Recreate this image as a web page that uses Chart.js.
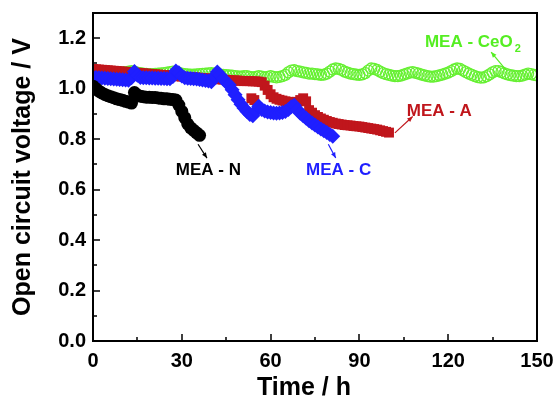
<!DOCTYPE html>
<html>
<head>
<meta charset="utf-8">
<script src="https://cdn.jsdelivr.net/npm/chart.js@4/dist/chart.umd.min.js"></script>
<style>
  html, body { margin: 0; padding: 0; background: #fff; }
  #wrap { width: 557px; height: 404px; }
</style>
</head>
<body>
<div id="wrap"><canvas id="ocv"></canvas></div>
<script>
// Time (h) and open circuit voltage (V) for each MEA
const timeN = [0,1,2,3,4,5,6,7,8,9,10,11,12,13,14,15,16,17,18,19,20,21,22,23,24,25,26,27,28,29,30,31,32,33,34,35,36];
const voltN = [1.01,1.0,0.99,0.983,0.977,0.972,0.968,0.964,0.96,0.957,0.954,0.95,0.947,0.943,0.985,0.975,0.97,0.968,0.966,0.966,0.965,0.965,0.963,0.962,0.96,0.96,0.958,0.957,0.955,0.935,0.91,0.885,0.86,0.845,0.835,0.825,0.815];

const timeA = [0,1,2,3,4,5,6,7,8,9,10,11,12,13,14,15,16,17,18,19,20,21,22,23,24,25,26,27,28,29,30,31,32,33,34,35,36,37,38,39,40,41,42,43,44,45,46,47,48,49,50,51,52,53,53.5,54,54.5,55,56,57,58,59,60,61,62,63,64,65,66,67,68,69,70,71,72,73,74,75,76,77,78,79,80,81,82,83,84,85,86,87,88,89,90,91,92,93,94,95,96,97,98,99,100];
const voltA = [1.078,1.077,1.076,1.075,1.074,1.073,1.072,1.071,1.07,1.069,1.068,1.067,1.066,1.065,1.064,1.063,1.062,1.061,1.06,1.059,1.058,1.057,1.056,1.055,1.054,1.053,1.052,1.051,1.05,1.049,1.048,1.047,1.046,1.045,1.045,1.044,1.043,1.042,1.041,1.04,1.04,1.039,1.038,1.037,1.036,1.035,1.034,1.033,1.033,1.032,1.031,1.03,1.03,1.03,0.962,1.029,0.955,1.029,1.028,1.026,1.012,0.995,0.978,0.966,0.96,0.956,0.953,0.95,0.948,0.946,0.946,0.948,0.955,0.962,0.95,0.915,0.905,0.895,0.888,0.882,0.877,0.872,0.868,0.865,0.862,0.86,0.858,0.856,0.855,0.854,0.852,0.851,0.85,0.848,0.846,0.844,0.842,0.84,0.838,0.835,0.832,0.829,0.826];

const timeC = [0,1,2,3,4,5,6,7,8,9,10,11,12,13,14,15,16,17,18,19,20,21,22,23,24,25,26,27,28,29,30,31,32,33,34,35,36,37,38,39,40,41,42,43,44,45,46,47,48,49,50,51,52,53,54,55,56,57,58,59,60,61,62,63,64,65,66,67,68,69,70,71,72,73,74,75,76,77,78,79,80,81];
const voltC = [1.045,1.044,1.043,1.042,1.041,1.04,1.039,1.038,1.037,1.036,1.035,1.034,1.033,1.043,1.068,1.053,1.044,1.043,1.043,1.042,1.042,1.041,1.041,1.04,1.04,1.039,1.039,1.048,1.07,1.063,1.05,1.043,1.041,1.04,1.039,1.038,1.036,1.034,1.032,1.03,1.028,1.048,1.066,1.053,1.038,1.026,1.016,0.996,0.976,0.956,0.938,0.923,0.91,0.898,0.893,0.913,0.93,0.918,0.912,0.908,0.906,0.904,0.903,0.904,0.906,0.91,0.918,0.928,0.934,0.918,0.903,0.893,0.883,0.873,0.864,0.856,0.848,0.84,0.833,0.826,0.818,0.812];

const timeCe = Array.from({ length: 151 }, (_, i) => i); // one reading per hour
const voltCe = [1.06,1.06,1.059,1.058,1.058,1.059,1.06,1.061,1.062,1.063,1.064,
  1.066,1.068,1.07,1.068,1.064,1.062,1.06,1.059,1.058,1.058,
  1.059,1.06,1.061,1.062,1.064,1.066,1.068,1.066,1.063,1.06,
  1.058,1.057,1.056,1.056,1.057,1.058,1.059,1.06,1.061,1.062,
  1.06,1.058,1.056,1.055,1.054,1.053,1.052,1.05,1.049,1.048,
  1.05,1.05,1.047,1.045,1.047,1.05,1.048,1.045,1.047,1.05,
  1.047,1.045,1.047,1.05,1.055,1.065,1.072,1.073,1.07,1.068,
  1.065,1.063,1.06,1.06,1.058,1.057,1.055,1.056,1.06,1.068,
  1.076,1.08,1.078,1.074,1.068,1.064,1.06,1.058,1.056,1.055,
  1.057,1.062,1.072,1.08,1.078,1.074,1.068,1.062,1.058,1.055,
  1.052,1.05,1.05,1.052,1.056,1.06,1.064,1.066,1.063,1.06,
  1.056,1.053,1.05,1.048,1.048,1.05,1.053,1.056,1.06,1.064,
  1.07,1.076,1.08,1.078,1.072,1.066,1.06,1.055,1.05,1.046,
  1.044,1.045,1.05,1.057,1.065,1.07,1.07,1.066,1.061,1.057,
  1.054,1.052,1.05,1.05,1.052,1.056,1.06,1.058,1.055,1.053];

const xTicks = [0, 30, 60, 90, 120, 150];
const yTicks = [0.0, 0.2, 0.4, 0.6, 0.8, 1.0, 1.2];

const pts = (t, v) => t.map((x, i) => ({ x, y: v[i] }));

// curve labels, placed in data space: [text, subscript, color, x, y, arrow from, arrow to]
const labels = [
  ['MEA - N', '', '#000000', 39, 0.675, [35.5, 0.78], [38.5, 0.725]],
  ['MEA - C', '', '#1f1fff', 83, 0.675, [79.5, 0.78], [82, 0.725]],
  ['MEA - A', '', '#c0161c', 117, 0.91, [102, 0.825], [108, 0.89]],
  ['MEA - CeO', '2', '#55ee22', 128, 1.185, [139.5, 1.075], [134.5, 1.145]],
];

const FONT = '"Liberation Sans", Arial, sans-serif';

const frame = {
  id: 'frame',
  afterDraw(chart) {
    const { ctx, chartArea: a, scales } = chart;
    ctx.save();
    ctx.strokeStyle = '#000';
    ctx.lineWidth = 2;
    ctx.strokeRect(a.left, a.top, a.right - a.left, a.bottom - a.top);
    ctx.lineWidth = 1.5;
    ctx.beginPath();
    for (let v = 0; v <= 1.25; v += 0.1) {
      const y = Math.round(scales.y.getPixelForValue(v));
      const len = Math.round(v * 10) % 2 === 0 ? 7 : 4;
      ctx.moveTo(a.left, y); ctx.lineTo(a.left + len, y);
    }
    for (let t = 0; t <= 150; t += 15) {
      const x = Math.round(scales.x.getPixelForValue(t));
      const len = t % 30 === 0 ? 7 : 4;
      ctx.moveTo(x, a.bottom); ctx.lineTo(x, a.bottom - len);
    }
    ctx.stroke();

    // x axis title, sits a little left of centre in the original
    ctx.fillStyle = '#000';
    ctx.font = 'bold 25px ' + FONT;
    ctx.textAlign = 'center';
    ctx.textBaseline = 'middle';
    ctx.fillText('Time / h', (a.left + a.right) / 2 - 11, 388);

    // curve labels and arrows
    ctx.font = 'bold 17px ' + FONT;
    labels.forEach(([txt, sub, col, lx, ly, from, to]) => {
      const px = scales.x.getPixelForValue(lx);
      const py = scales.y.getPixelForValue(ly);
      ctx.fillStyle = col;
      ctx.strokeStyle = col;
      const w = ctx.measureText(txt).width;
      let subW = 0;
      if (sub) {
        ctx.font = 'bold 11px ' + FONT;
        subW = ctx.measureText(sub).width;
        ctx.font = 'bold 17px ' + FONT;
      }
      const x0 = px - (w + subW) / 2;
      ctx.textAlign = 'left';
      ctx.fillText(txt, x0, py);
      if (sub) {
        ctx.font = 'bold 11px ' + FONT;
        ctx.fillText(sub, x0 + w + 2, py + 7);
        ctx.font = 'bold 17px ' + FONT;
      }
      const x1 = scales.x.getPixelForValue(from[0]), y1 = scales.y.getPixelForValue(from[1]);
      const x2 = scales.x.getPixelForValue(to[0]), y2 = scales.y.getPixelForValue(to[1]);
      const ang = Math.atan2(y2 - y1, x2 - x1);
      ctx.lineWidth = 1.2;
      ctx.beginPath();
      ctx.moveTo(x1, y1); ctx.lineTo(x2, y2);
      ctx.stroke();
      ctx.beginPath();
      ctx.moveTo(x2, y2);
      ctx.lineTo(x2 - 6 * Math.cos(ang - 0.4), y2 - 6 * Math.sin(ang - 0.4));
      ctx.lineTo(x2 - 6 * Math.cos(ang + 0.4), y2 - 6 * Math.sin(ang + 0.4));
      ctx.closePath();
      ctx.fill();
    });
    ctx.restore();
  },
};

const tickFont = { family: FONT, size: 20, weight: 'bold' };
const titleFont = { family: FONT, size: 25, weight: 'bold' };

new Chart(document.getElementById('ocv'), {
  type: 'scatter',
  data: {
    datasets: [
      {
        label: 'MEA - CeO2',
        data: pts(timeCe, voltCe),
        pointStyle: 'circle',
        pointRadius: 5.5,
        backgroundColor: 'rgba(0,0,0,0)',
        borderColor: '#66f032',
        borderWidth: 1.3,
        order: 4,
      },
      {
        label: 'MEA - A',
        data: pts(timeA, voltA),
        pointStyle: 'rect',
        pointRadius: 7,
        backgroundColor: '#c0161c',
        borderColor: '#c0161c',
        borderWidth: 0,
        order: 3,
      },
      {
        label: 'MEA - C',
        data: pts(timeC, voltC),
        pointStyle: 'rectRot',
        pointRadius: 7.5,
        backgroundColor: '#1f1fff',
        borderColor: '#1f1fff',
        borderWidth: 0,
        order: 2,
      },
      {
        label: 'MEA - N',
        data: pts(timeN, voltN),
        pointStyle: 'circle',
        pointRadius: 6.5,
        backgroundColor: '#000000',
        borderColor: '#000000',
        borderWidth: 0,
        order: 1,
      },
    ],
  },
  options: {
    responsive: true,
    maintainAspectRatio: false,
    animation: false,
    layout: { padding: { left: 0, right: 20, top: 13, bottom: 0 } },
    scales: {
      x: {
        type: 'linear',
        min: 0,
        max: 150,
        afterBuildTicks: s => { s.ticks = xTicks.map(value => ({ value })); },
        afterFit: s => { s.height = 63; s.paddingLeft = 0; s.paddingRight = 0; },
        grid: { display: false, drawTicks: false },
        border: { display: false },
        ticks: { font: tickFont, color: '#000', padding: 8, maxRotation: 0 },
        title: { display: false },
      },
      y: {
        min: 0,
        max: 1.3,
        afterBuildTicks: s => { s.ticks = yTicks.map(value => ({ value })); },
        afterFit: s => { s.width = 93; s.paddingTop = 0; s.paddingBottom = 0; },
        grid: { display: false, drawTicks: false },
        border: { display: false },
        ticks: { font: tickFont, color: '#000', padding: 7, callback: v => v.toFixed(1) },
        title: { display: true, text: 'Open circuit voltage / V', font: titleFont, color: '#000', padding: { top: 8, bottom: 4 } },
      },
    },
    plugins: {
      legend: { display: false },
      tooltip: { enabled: false },
    },
  },
  plugins: [frame],
});
</script>
</body>
</html>
